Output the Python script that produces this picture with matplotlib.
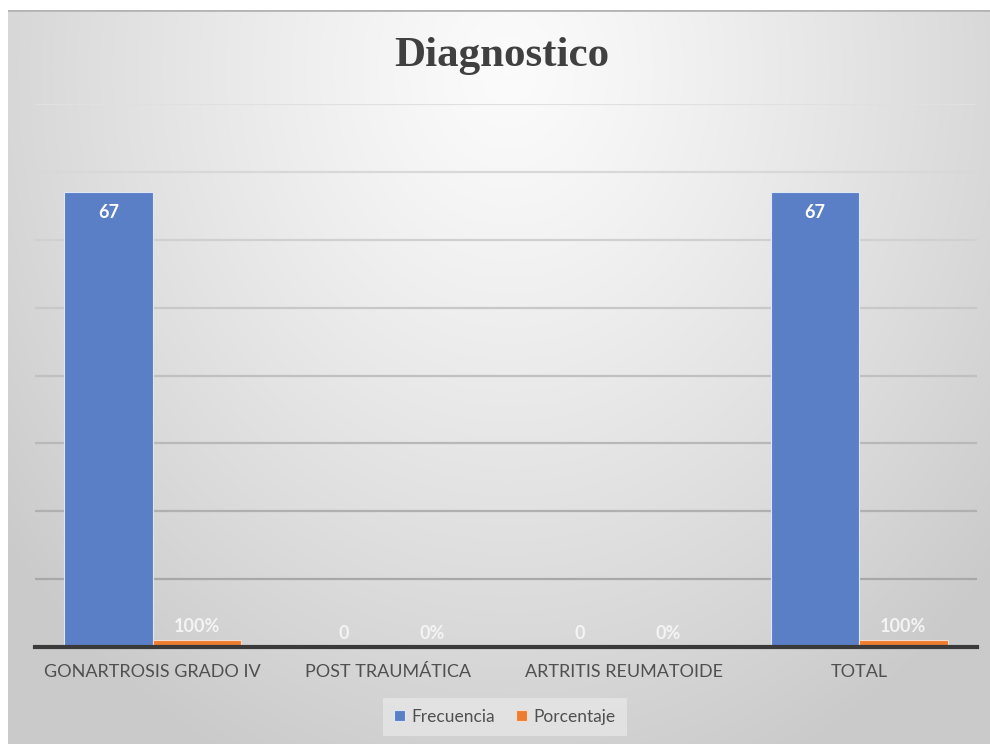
import numpy as np
import matplotlib.pyplot as plt

# Chart data
categories = ['GONARTROSIS GRADO IV', 'POST TRAUMÁTICA', 'ARTRITIS REUMATOIDE', 'TOTAL']
frecuencia = [67, 0, 0, 67]
porcentaje = [1.0, 0.0, 0.0, 1.0]          # drawn on the same axis (1.0 = 100%)
frec_labels = ['67', '0', '0', '67']
porc_labels = ['100%', '0%', '0%', '100%']
grid_ticks = [10, 20, 30, 40, 50, 60, 70, 80]

W, H = 990, 744
fig = plt.figure(figsize=(W / 100, H / 100), dpi=100)
fig.patch.set_facecolor('white')

# Radial gradient background panel
bg_ax = fig.add_axes([8 / W, 0, (W - 8) / W, (H - 10) / H])
bg_ax.set_axis_off()
yy, xx = np.mgrid[0:734, 0:982]
d = np.sqrt(((xx - 500) / 640.0) ** 2 + ((yy - 60) / 760.0) ** 2)
d = np.clip(d, 0, 1)
shade = 0.985 - 0.19 * d ** 1.2
img = np.dstack([shade, shade, shade])
bg_ax.imshow(img, aspect='auto', extent=[0, 1, 0, 1], origin='upper')
bg_ax.set_xlim(0, 1)
bg_ax.set_ylim(0, 1)
bg_ax.axhline(1, color='#b4b4b4', lw=2)

# Plot axes
ax = fig.add_axes([35 / W, 1 - 647 / H, (977 - 35) / W, (647 - 104) / H])
ax.patch.set_alpha(0)
x = np.arange(len(categories))
bw = 0.375
blue = '#5b7fc7'
orange = '#ed7d31'
ax.bar(x - bw / 2, frecuencia, bw, color=blue, edgecolor='#dfe6f5', lw=0.8,
       label='Frecuencia', zorder=3)
ax.bar(x + bw / 2, porcentaje, bw, color=orange, edgecolor='#f6dccb', lw=0.8,
       label='Porcentaje', zorder=3)

ax.set_xlim(-0.5, len(categories) - 0.5)
ax.set_ylim(0, 80)
ax.set_yticks(grid_ticks)
ax.set_yticklabels([])
ax.tick_params(axis='y', length=0)
ax.tick_params(axis='x', length=0, pad=12)
ax.set_xticks(x)
ax.set_xticklabels(categories, fontsize=13, color='#505050', family='Lato')

# gridlines darken toward the bottom
for i, t in enumerate(grid_ticks):
    g = 0.66 + 0.22 * (i / (len(grid_ticks) - 1))
    ax.axhline(t, color=(g, g, g), lw=1.6, zorder=1)

for s in ['top', 'right', 'left']:
    ax.spines[s].set_visible(False)
ax.spines['bottom'].set_color('#3a3a3a')
ax.spines['bottom'].set_linewidth(3)
ax.spines['bottom'].set_zorder(4)

# Data labels
for xi, v, lab in zip(x, frecuencia, frec_labels):
    if v > 5:
        ax.text(xi - bw / 2, v - 1.8, lab, ha='center', va='top', color='white',
                fontsize=13, fontweight='bold', family='Lato', zorder=5)
    else:
        ax.text(xi - bw / 2, v + 2.0, lab, ha='center', va='center', color='#f4f4f4',
                fontsize=13, fontweight='bold', family='Lato', zorder=5)
for xi, v, lab in zip(x, porcentaje, porc_labels):
    ax.text(xi + bw / 2, v + 2.0, lab, ha='center', va='center', color='#f4f4f4',
            fontsize=13, fontweight='bold', family='Lato', zorder=5)

fig.text(0.507, 1 - 56 / H, 'Diagnostico', ha='center', va='center',
         fontsize=31, fontweight='bold', family='Liberation Serif', color='#404040')

leg = fig.legend(loc='center', bbox_to_anchor=(505 / W, 1 - 717 / H), ncol=2,
                 frameon=True, handlelength=0.6, handleheight=0.6,
                 handletextpad=0.4, columnspacing=1.2, prop={'family': 'Lato', 'size': 12.5})
leg.get_frame().set_facecolor('#e6e6e6')
leg.get_frame().set_edgecolor('none')
leg.get_frame().set_alpha(0.8)
leg.get_frame().set_boxstyle('square', pad=0.25)
for t in leg.get_texts():
    t.set_color('#505050')

fig.savefig('out.png', dpi=100)
